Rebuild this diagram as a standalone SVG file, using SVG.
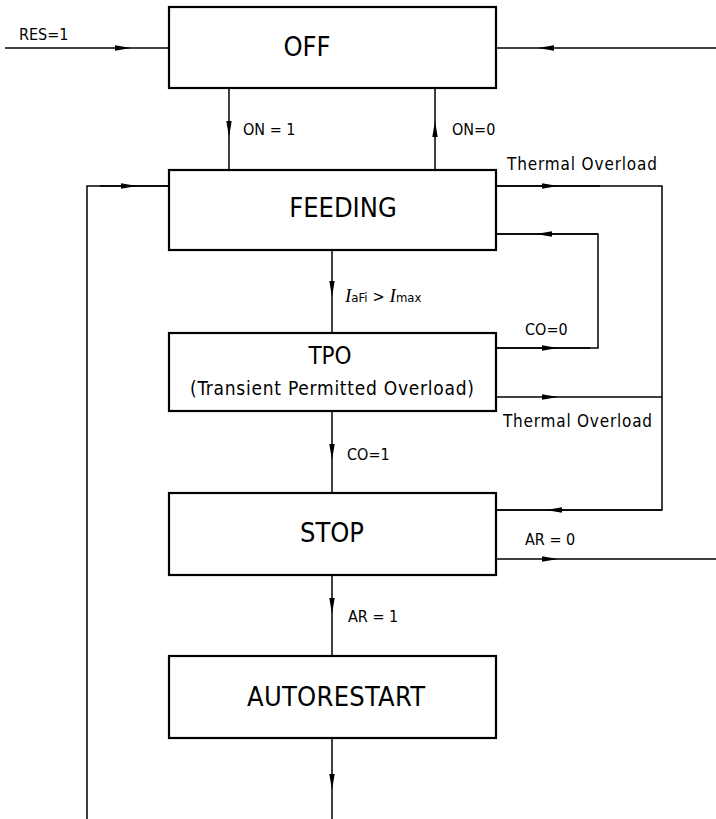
<svg xmlns="http://www.w3.org/2000/svg" width="716" height="819" viewBox="0 0 716 819">
<style>
.box{fill:#fff;stroke:#000;stroke-width:2.2}
.ln{fill:none;stroke:#000;stroke-width:1.5;marker-mid:url(#ah)}
.plain{fill:none;stroke:#000;stroke-width:1.5}
.t{font-family:"DejaVu Sans Condensed","DejaVu Sans",sans-serif;font-stretch:condensed;fill:#000}
.big{font-size:27px;text-anchor:middle}
.sm{font-size:16px}
.th{font-size:17px}
</style>
<defs>
<marker id="ah" viewBox="0 0 16 6" refX="16" refY="3" markerWidth="16" markerHeight="6" markerUnits="userSpaceOnUse" orient="auto">
<path d="M0,0.3 L16,3 L0,5.7 z" fill="#000"/>
</marker>
</defs>
<rect width="716" height="819" fill="#fff"/>
<g id="connectors">
<path class="ln" d="M5,48 L131,48 L169,48"/>
<path class="ln" d="M716,48 L538,48 L496,48"/>
<path class="ln" d="M229,88 L229,137 L229,170"/>
<path class="ln" d="M435,170 L435,121 L435,88"/>
<path class="plain" d="M496,186 L662,186 L662,510 L496,510"/>
<path class="ln" d="M496,186 L558,186 L600,186"/>
<path class="ln" d="M662,510 L546,510 L496,510"/>
<path class="ln" d="M496,397 L558,397 L662,397"/>
<path class="plain" d="M496,348 L598,348 L598,234 L496,234"/>
<path class="ln" d="M496,348 L558,348 L590,348"/>
<path class="ln" d="M598,234 L536,234 L496,234"/>
<path class="ln" d="M332,250 L332,297 L332,333"/>
<path class="ln" d="M332,411 L332,460 L332,493"/>
<path class="ln" d="M496,559 L558,559 L716,559"/>
<path class="ln" d="M332,575 L332,614 L332,656"/>
<path class="ln" d="M332,738 L332,790 L332,819"/>
<path class="plain" d="M87,819 L87,186 L169,186"/>
<path class="ln" d="M100,186 L137,186 L169,186"/>
</g>
<g id="off">
<rect class="box" x="169" y="7" width="327" height="81"/>
<text class="t big" x="307" y="56">OFF</text>
</g>
<g id="feeding">
<rect class="box" x="169" y="170" width="327" height="80"/>
<text class="t big" x="343" y="217">FEEDING</text>
</g>
<g id="tpo">
<rect class="box" x="169" y="333" width="327" height="78"/>
<text class="t" x="330" y="364" font-size="24" text-anchor="middle">TPO</text>
<text class="t" x="332" y="395" font-size="19" text-anchor="middle" textLength="284" lengthAdjust="spacing">(Transient  Permitted Overload)</text>
</g>
<g id="stop">
<rect class="box" x="169" y="493" width="327" height="82"/>
<text class="t big" x="332" y="542">STOP</text>
</g>
<g id="autorestart">
<rect class="box" x="169" y="656" width="327" height="82"/>
<text class="t big" x="336" y="706" textLength="178" lengthAdjust="spacing">AUTORESTART</text>
</g>
<g id="labels">
<text class="t sm" x="19" y="40">RES=1</text>
<text class="t sm" x="243" y="135">ON = 1</text>
<text class="t sm" x="452" y="135">ON=0</text>
<text class="t th" x="507" y="170" textLength="150" lengthAdjust="spacing">Thermal Overload</text>
<text class="t sm" x="345" y="302"><tspan font-family="Liberation Serif,serif" font-style="italic" font-size="19">I</tspan><tspan font-size="13">aFi</tspan><tspan dx="5">&gt;</tspan><tspan dx="5" font-family="Liberation Serif,serif" font-style="italic" font-size="19">I</tspan><tspan font-size="13">max</tspan></text>
<text class="t sm" x="525" y="335">CO=0</text>
<text class="t th" x="503" y="427" textLength="149" lengthAdjust="spacing">Thermal Overload</text>
<text class="t sm" x="347" y="460">CO=1</text>
<text class="t sm" x="525" y="545">AR = 0</text>
<text class="t sm" x="348" y="622">AR = 1</text>
</g>
</svg>
